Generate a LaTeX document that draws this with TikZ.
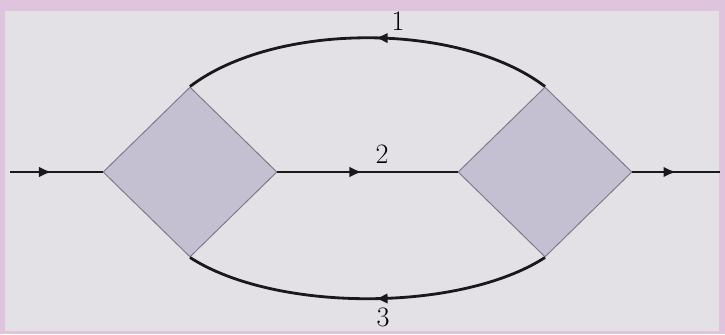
\documentclass[tikz,border=0pt]{standalone}
\usepackage{tikz}
\usetikzlibrary{shapes.geometric,decorations.markings,arrows.meta}
\definecolor{framepink}{HTML}{DEC4DC}
\definecolor{paper}{HTML}{E3E1E5}
\definecolor{boxfill}{HTML}{C4BFD1}
\definecolor{boxedge}{HTML}{7D7888}
\tikzset{
  branch/.style={diamond, draw=boxedge, fill=boxfill, line width=0.8pt, inner sep=0pt, minimum width=5.22cm, minimum height=5.1cm},
  wire/.style={line width=2.4pt, black!90},
  midarrow/.style={postaction={decorate}, decoration={markings, mark=at position #1 with {\arrow{Latex[length=3.8mm,width=3.2mm]}}}},
  pathlabel/.style={font=\fontsize{24}{26}\selectfont, inner sep=0pt}
}

\begin{document}
\begin{tikzpicture}[x=0.03cm, y=-0.03cm]
\useasboundingbox (0,0) rectangle (725,334);
\clip (0,0) rectangle (725,334);
%----------------- frame -----------------
\fill[framepink] (0,0) rectangle (725,334);
\fill[paper] (5,11) rectangle (719,331);
%----------------- the two diamonds -----------------
\node[branch] (split) at (190,172) {};
\node[branch] (join) at (545,172) {};
\coordinate (in) at (10,172);
\coordinate (out) at (720,172);
% straight path
\draw[wire, midarrow=0.45] (in) -- (split.west);
\draw[wire, midarrow=0.47] (split.east) -- (join.west);
\draw[wire, midarrow=0.5] (join.east) -- (out);
% upper and lower arcs, both run right to left
\draw[wire, midarrow=0.48] (join.north) .. controls +(-85,-65) and +(85,-65) .. (split.north);
\draw[wire, midarrow=0.48] (join.south) .. controls +(-85,55) and +(85,55) .. (split.south);
% labels
\node[pathlabel] (lab1) at (398,21) {1};
\node[pathlabel] (lab2) at (382,154) {2};
\node[pathlabel] (lab3) at (383,317) {3};
\end{tikzpicture}
\end{document}
